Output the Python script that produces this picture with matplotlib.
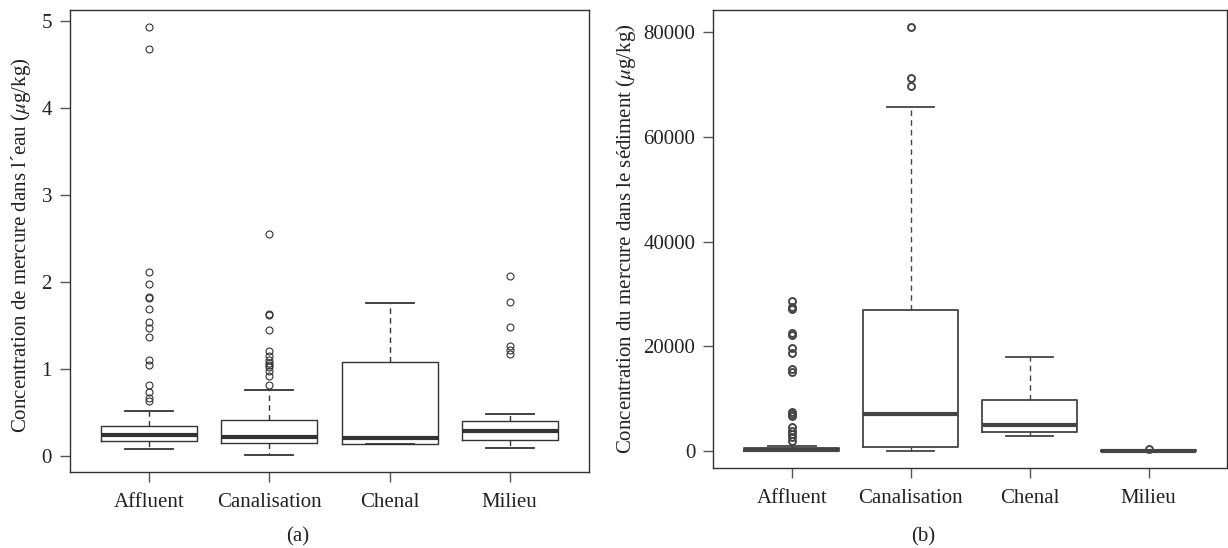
import matplotlib
matplotlib.use("Agg")
import matplotlib.pyplot as plt

plt.rcParams["font.family"] = ["Liberation Serif", "DejaVu Serif"]
plt.rcParams["mathtext.fontset"] = "stix"

CATEGORIES = ["Affluent", "Canalisation", "Chenal", "Milieu"]

# (a) water concentration, µg/kg
WATER_WHISLO = [0.077, 0.015, 0.133, 0.088]
WATER_Q1 = [0.169, 0.153, 0.138, 0.187]
WATER_MED = [0.237, 0.222, 0.203, 0.291]
WATER_Q3 = [0.348, 0.414, 1.076, 0.402]
WATER_WHISHI = [0.513, 0.758, 1.754, 0.479]
WATER_FLIERS = [
    [4.93, 4.67, 2.11, 1.97, 1.83, 1.82, 1.685, 1.536, 1.474, 1.37, 1.10, 1.04,
     0.82, 0.74, 0.67, 0.635],
    [2.55, 1.627, 1.62, 1.447, 1.206, 1.149, 1.103, 1.065, 1.045, 1.026, 0.98,
     0.919, 0.816],
    [],
    [2.07, 1.765, 1.485, 1.264, 1.218, 1.172],
]

# (b) sediment concentration, µg/kg
SED_WHISLO = [0, 0, 2870, 10]
SED_Q1 = [0, 820, 3690, 40]
SED_MED = [100, 7140, 4970, 70]
SED_Q3 = [510, 26960, 9675, 110]
SED_WHISHI = [1020, 65660, 18015, 200]
SED_FLIERS = [
    [28620, 27420, 27090, 22600, 22170, 19620, 18670, 15610, 15100, 7510, 7010,
     6600, 4520, 3890, 3250, 2610, 1970],
    [81000, 71330, 69660],
    [],
    [320],
]

W, H = 1228, 548
FS = 15


def make_stats(lo, q1, med, q3, hi, fliers):
    return [
        {"whislo": a, "q1": b, "med": c, "q3": d, "whishi": e, "fliers": f}
        for a, b, c, d, e, f in zip(lo, q1, med, q3, hi, fliers)
    ]


def draw_panel(ax, stats, ylim, yticks, ylabel, col, lw_box, flier_mew):
    ax.bxp(
        stats,
        positions=range(1, len(stats) + 1),
        widths=0.8,
        capwidths=0.4,
        boxprops=dict(color=col, linewidth=lw_box),
        medianprops=dict(color=col, linewidth=3.0),
        whiskerprops=dict(color=col, linewidth=1.0, linestyle=(0, (4, 3))),
        capprops=dict(color=col, linewidth=1.3),
        flierprops=dict(marker="o", markerfacecolor="none", markeredgecolor=col,
                        markersize=5, markeredgewidth=flier_mew),
    )
    ax.set_xlim(0.34, 4.66)
    ax.set_ylim(*ylim)
    ax.set_yticks(yticks)
    ax.set_xticks(range(1, len(CATEGORIES) + 1))
    ax.set_xticklabels(CATEGORIES)
    ax.tick_params(axis="both", direction="out", length=7, width=1.0,
                   color="#555555", labelsize=FS, labelcolor="#222222", pad=6)
    ax.tick_params(axis="x", pad=8)
    for sp in ax.spines.values():
        sp.set_color("#333333")
        sp.set_linewidth(1.0)
    ax.set_ylabel(ylabel, fontsize=FS, color="#222222")


fig = plt.figure(figsize=(W / 100, H / 100), dpi=100)

ax_a = fig.add_axes([70 / W, 1 - 472 / H, 519 / W, 462.5 / H])
draw_panel(
    ax_a,
    make_stats(WATER_WHISLO, WATER_Q1, WATER_MED, WATER_Q3, WATER_WHISHI, WATER_FLIERS),
    (-0.184, 5.129), [0, 1, 2, 3, 4, 5],
    "Concentration de mercure dans l\u00b4eau ($\\mu$g/kg)",
    "#333333", 1.0, 0.8,
)
ax_a.yaxis.set_label_coords(-0.071, 0.49)

ax_b = fig.add_axes([713.3 / W, 1 - 468.3 / H, 513.7 / W, 458.3 / H])
draw_panel(
    ax_b,
    make_stats(SED_WHISLO, SED_Q1, SED_MED, SED_Q3, SED_WHISHI, SED_FLIERS),
    (-3310, 84260), [0, 20000, 40000, 60000, 80000],
    "Concentration du mercure dans le s\u00e9diment ($\\mu$g/kg)",
    "#444444", 1.3, 1.4,
)
ax_b.yaxis.set_label_coords(-0.147, 0.5)

fig.text(298 / W, 1 - 537 / H, "(a)", ha="center", va="center", fontsize=FS,
         color="#222222")
fig.text(923 / W, 1 - 537 / H, "(b)", ha="center", va="center", fontsize=FS,
         color="#222222")

fig.savefig("out.png", dpi=100)
